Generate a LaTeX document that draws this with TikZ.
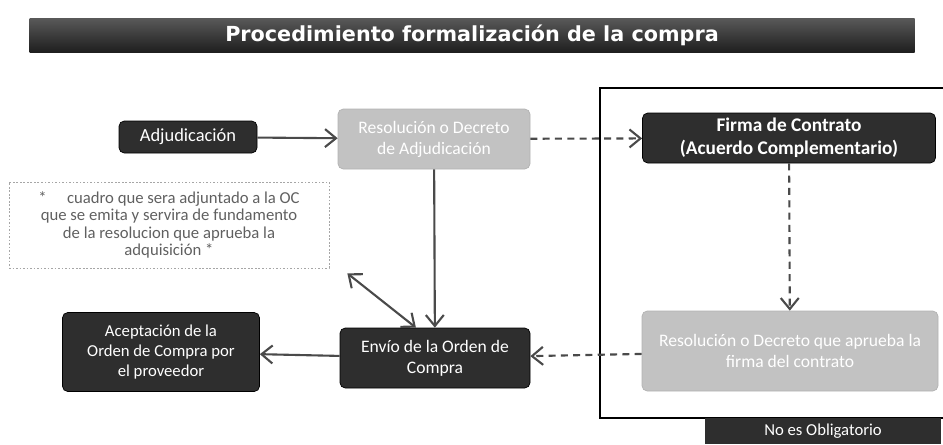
\documentclass[tikz,border=0pt]{standalone}
\usepackage{fontspec}
\setmainfont{Carlito}
\newfontfamily\titlefont{DejaVu Sans}
\usepackage{tikz}
\usetikzlibrary{arrows.meta}
\usetikzlibrary{calc}
\definecolor{darkbox}{HTML}{2E2E2E}
\definecolor{lightbox}{HTML}{C2C2C2}
\definecolor{linegray}{HTML}{4A4A4A}
\tikzset{
  darkstep/.style={draw=black, fill=darkbox, text=white, rounded corners=3pt,
    align=center, font=\fontsize{10}{12}\selectfont, inner sep=2pt},
  lightstep/.style={draw=gray!60, fill=lightbox, text=white, rounded corners=3pt,
    align=center, font=\fontsize{10}{12}\selectfont, inner sep=2pt},
  flow/.style={draw=linegray, line width=1.2pt, -{Straight Barb[length=2.2mm,width=3.6mm]}},
  optflow/.style={flow, dashed, dash pattern=on 4pt off 3pt}
}

\begin{document}
\begin{tikzpicture}[x=0.02cm, y=-0.02cm]
  \useasboundingbox (0, 0) rectangle (943, 444);

  % banner
  \node[top color=black!65, bottom color=black!88, text=white,
    minimum width=885*0.02cm, minimum height=34*0.02cm,
    font=\titlefont\bfseries\fontsize{11.8}{13}\selectfont] at (472, 35) (titulo)
    {Procedimiento formalización de la compra};

  % optional part
  \draw[line width=1.3pt] (943, 88) -- (600, 88) -- (600, 418) -- (943, 418);
  \node[fill=black!82, text=white, minimum width=236*0.02cm, minimum height=26*0.02cm,
    font=\fontsize{9.5}{11}\selectfont] at (823, 431) (oblig) {No es Obligatorio};

  \node[darkstep, minimum width=138*0.02cm, minimum height=32*0.02cm,
    font=\fontsize{10.5}{12}\selectfont] at (188, 137) (adj)
    {Adjudicación};
  \node[lightstep, minimum width=192*0.02cm, minimum height=60*0.02cm] at (434, 139) (resadj)
    {Resolución o Decreto\\de Adjudicación};
  \node[darkstep, minimum width=293*0.02cm, minimum height=50*0.02cm,
    font=\bfseries\fontsize{11}{13}\selectfont] at (789, 138) (firma)
    {Firma de Contrato\\(Acuerdo Complementario)};
  \node[lightstep, minimum width=296*0.02cm, minimum height=80*0.02cm] at (790, 351) (resfirma)
    {Resolución o Decreto que aprueba la\\firma del contrato};
  \node[darkstep, minimum width=190*0.02cm, minimum height=60*0.02cm] at (435, 358) (envio)
    {Envío de la Orden de\\Compra};
  \node[darkstep, minimum width=197*0.02cm, minimum height=79*0.02cm,
    font=\fontsize{9.5}{11.5}\selectfont] at (161, 352) (acept)
    {Aceptación de la\\Orden de Compra por\\el proveedor};
  \node[draw=gray!70, dashed, dash pattern=on 1pt off 1pt, text=gray!75!black, align=center,
    minimum width=320*0.02cm, minimum height=86*0.02cm,
    font=\fontsize{9.5}{10}\selectfont] at (169, 225) (nota)
    {* \quad cuadro que sera adjuntado a la OC\\que se emita y servira de fundamento\\de la resolucion que aprueba la\\adquisición *};

  \coordinate (notaend) at ($(nota.south east)+(18, 5)$);
  \coordinate (enviotop) at ($(envio.north west)!0.4!(envio.north east)$);

  \draw[flow] (adj) -- (resadj);
  \draw[optflow] (resadj) -- (firma);
  \draw[optflow] (firma) -- (resfirma);
  \draw[optflow] (resfirma) -- (envio);
  \draw[flow] (resadj) -- (envio);
  \draw[flow] (envio) -- (acept);
  \draw[flow, {Straight Barb[length=2.2mm,width=3.6mm]}-{Straight Barb[length=2.2mm,width=3.6mm]}]
    (notaend) -- (enviotop);
\end{tikzpicture}
\end{document}
